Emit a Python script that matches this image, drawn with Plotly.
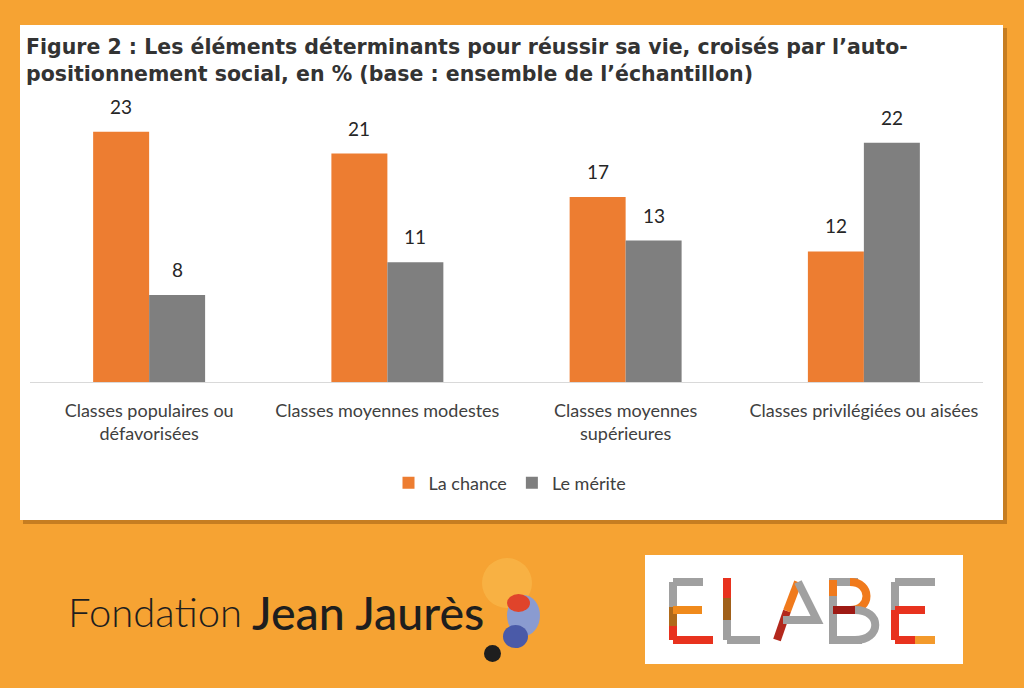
import plotly.graph_objects as go

# data
categories = ["Classes populaires ou<br>défavorisées", "Classes moyennes modestes",
              "Classes moyennes<br>supérieures", "Classes privilégiées ou aisées"]
la_chance = [23, 21, 17, 12]
le_merite = [8, 11, 13, 22]
series_names = ["La chance", "Le mérite"]
series_colors = ["#ED7D31", "#7F7F7F"]

title_text = ("Figure 2 : Les éléments déterminants pour réussir sa vie, croisés par l’auto-<br>"
              "positionnement social, en % (base : ensemble de l’échantillon)")

W, H = 1024, 688
ML, MR, MT, MB = 30, 41, 110, 306
PW, PH = W - ML - MR, H - MT - MB

def px(x):
    return (x - ML) / PW

def py(y):
    return (H - MB - y) / PH

fig = go.Figure()
for name, vals, col in zip(series_names, [la_chance, le_merite], series_colors):
    fig.add_trace(go.Bar(x=categories, y=vals, name=name, marker_color=col,
                         marker_line_width=0))

# value labels above the bars
annotations = []
for k, vals in enumerate([la_chance, le_merite]):
    for cat, v in zip(categories, vals):
        annotations.append(dict(x=cat, y=v, xref="x", yref="y", text=str(v),
                                showarrow=False, yanchor="bottom", xshift=-28 if k == 0 else 28,
                                yshift=12, font=dict(family="Lato", size=19, color="#262626")))

# title
annotations.append(dict(x=px(24), y=py(33), xref="paper", yref="paper", text=title_text,
                        showarrow=False, xanchor="left", yanchor="top", align="left",
                        font=dict(family="DejaVu Sans", size=20.5, color="#333333", weight="bold")))

# logo texts
annotations.append(dict(x=px(66), y=py(612), xref="paper", yref="paper", text="Fondation",
                        showarrow=False, xanchor="left", yanchor="middle",
                        font=dict(family="Lato", size=40, color="#1e1e1e", weight=300)))
annotations.append(dict(x=px(250), y=py(612), xref="paper", yref="paper", text="Jean Jaurès",
                        showarrow=False, xanchor="left", yanchor="middle",
                        font=dict(family="Lato", size=46.5, color="#1e1e1e", weight=500)))

shapes = []
# white panel with shadow
shapes.append(dict(type="rect", xref="paper", yref="paper", x0=px(23), x1=px(1007),
                   y0=py(28), y1=py(524), fillcolor="rgba(140,80,10,0.45)", line_width=0, layer="below"))
shapes.append(dict(type="rect", xref="paper", yref="paper", x0=px(20), x1=px(1003),
                   y0=py(25), y1=py(520), fillcolor="white", line_width=0, layer="below"))

def circle(x0, y0, x1, y1, color):
    shapes.append(dict(type="circle", xref="paper", yref="paper", x0=px(x0), x1=px(x1),
                       y0=py(y0), y1=py(y1), fillcolor=color, line_width=0, layer="above"))

# Jaurès blob
circle(482, 558, 532, 608, "rgba(250,190,80,0.55)")
circle(507, 595, 540, 636, "#8A9BD0")
circle(507, 594, 530, 612, "#E0442B")
circle(503, 625, 528, 648, "#4A5AA8")
circle(484, 645, 501, 662, "#1e1e1e")

# ELABE box
shapes.append(dict(type="rect", xref="paper", yref="paper", x0=px(645), x1=px(963),
                   y0=py(555), y1=py(664), fillcolor="white", line_width=0, layer="above"))

def seg(x0, y0, x1, y1, color, w=8):
    shapes.append(dict(type="line", xref="paper", yref="paper", x0=px(x0), x1=px(x1),
                       y0=py(y0), y1=py(y1), line=dict(color=color, width=w), layer="above"))

def path(pts, color, w=8):
    d = "M" + " L".join(f"{px(a):.5f},{py(b):.5f}" for a, b in pts)
    shapes.append(dict(type="path", xref="paper", yref="paper", path=d,
                       line=dict(color=color, width=w), layer="above"))

gray = "#A0A0A0"
# E
seg(673, 582, 673, 607, gray)
seg(673, 607, 673, 626, "#B06A1A")
seg(673, 626, 673, 640, "#E8321E")
seg(673, 582, 703, 582, gray)
seg(673, 610, 702, 610, "#F08A1C")
seg(673, 640, 713, 640, "#E8321E")
# L
seg(727, 578, 727, 598, "#E8321E")
seg(727, 598, 727, 620, "#A0601A")
seg(727, 620, 727, 640, gray)
seg(727, 640, 760, 640, gray)
# A
seg(777, 640, 787, 611, "#B3281C")
seg(787, 611, 798, 582, "#F07A1C")
path([(798, 582), (817, 620), (783, 620)], gray)
# B
path([(858, 582), (833, 582), (833, 640), (862, 640)], gray)
seg(833, 580, 833, 596, "#F07A1C")
shapes.append(dict(type="path", xref="paper", yref="paper",
                   path=f"M{px(850)},{py(582)} C{px(872)},{py(582)} {px(872)},{py(610)} {px(850)},{py(610)}",
                   line=dict(color="#F07A1C", width=8), layer="above"))
seg(833, 610, 855, 610, "#9E1A14")
shapes.append(dict(type="path", xref="paper", yref="paper",
                   path=f"M{px(855)},{py(610)} C{px(882)},{py(610)} {px(882)},{py(640)} {px(855)},{py(640)}",
                   line=dict(color=gray, width=8), layer="above"))
# E
seg(895, 582, 895, 610, gray)
seg(895, 610, 895, 640, "#E8321E")
seg(895, 582, 935, 582, gray)
seg(895, 610, 925, 610, "#E8321E")
seg(895, 640, 915, 640, "#E8321E")
seg(915, 640, 935, 640, "#F39A2C")

fig.update_layout(
    width=W, height=H,
    margin=dict(l=ML, r=MR, t=MT, b=MB),
    paper_bgcolor="#F6A333",
    plot_bgcolor="rgba(0,0,0,0)",
    barmode="group", bargap=0.53, bargroupgap=0,
    legend=dict(orientation="h", x=px(510), xanchor="center", y=py(483), yanchor="middle",
                bgcolor="rgba(0,0,0,0)", font=dict(family="Lato", size=18, color="#404040")),
    annotations=annotations,
    shapes=shapes,
    showlegend=True,
)
fig.update_xaxes(showline=True, linecolor="#D9D9D9", linewidth=1, ticks="outside",
                 ticklen=12, tickcolor="rgba(0,0,0,0)",
                 tickfont=dict(family="Lato", size=18, color="#404040"), showgrid=False)
fig.update_yaxes(visible=False, range=[0, 25])

fig.write_html("out.html", config={"displayModeBar": False},
               post_script="document.body.style.margin='0';")
